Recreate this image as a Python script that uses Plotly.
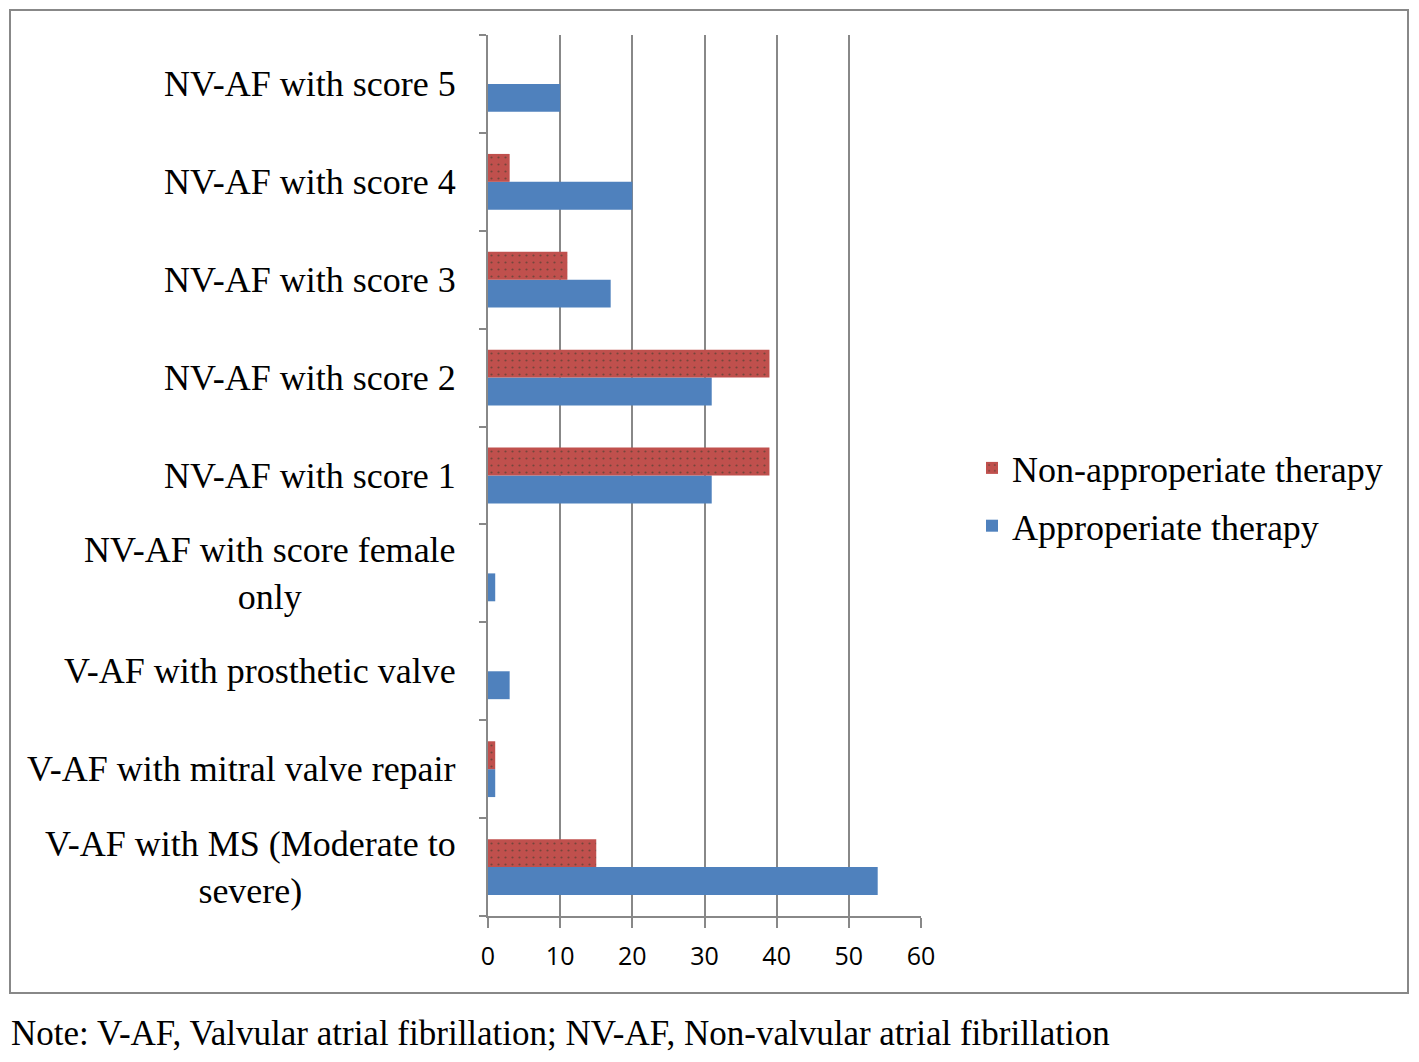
import plotly.graph_objects as go

categories = [
    "V-AF with MS (Moderate to<br>severe)",
    "V-AF with mitral valve repair",
    "V-AF with prosthetic valve",
    "NV-AF with score female<br>only",
    "NV-AF with score 1",
    "NV-AF with score 2",
    "NV-AF with score 3",
    "NV-AF with score 4",
    "NV-AF with score 5",
]
appropriate = [54, 1, 3, 1, 31, 31, 17, 20, 10]
non_appropriate = [15, 1, 0, 0, 39, 39, 11, 3, 0]
x_ticks = [0, 10, 20, 30, 40, 50, 60]

# page body has an 8px margin; work in reference screen pixels
OFF = 8
W, H = 1419 - 2 * OFF, 1062 - 2 * OFF
L, R, T, B = 488, 921, 35, 916  # screen pixels of plot area

def px_x(p):
    return (p - L) / (R - L)

def px_y(p):
    return (B - p) / (B - T)

serif = "Liberation Serif"

fig = go.Figure()
fig.add_trace(go.Bar(
    y=categories, x=appropriate, orientation="h", name="Approperiate therapy",
    legendgroup="a", legendrank=2,
    marker=dict(color="#4F81BD", line=dict(width=0)),
))
fig.add_trace(go.Bar(
    y=categories, x=non_appropriate, orientation="h", name="Non-approperiate therapy",
    legendgroup="n", legendrank=1,
    marker=dict(color="#C0504D", line=dict(width=0),
                pattern=dict(shape=".", fgcolor="#2a3a2a", bgcolor="#C0504D", size=7, solidity=0.08)),
))

annotations = []
for c in categories:
    annotations.append(dict(
        x=px_x(458), xref="paper", y=c, yref="y", text=c, showarrow=False,
        xanchor="right", yanchor="middle", align="center",
        font=dict(family=serif, size=36, color="black"),
    ))
annotations.append(dict(
    x=px_x(9), xref="paper", y=px_y(1033), yref="paper",
    text="Note: V-AF, Valvular atrial fibrillation; NV-AF, Non-valvular atrial fibrillation",
    showarrow=False, xanchor="left", yanchor="middle",
    font=dict(family=serif, size=35, color="black"),
))

fig.update_layout(
    width=W, height=H,
    margin=dict(l=L - OFF, r=W - (R - OFF), t=T - OFF, b=H - (B - OFF), pad=0),
    paper_bgcolor="white", plot_bgcolor="white",
    barmode="group", bargap=0.43, bargroupgap=0,
    showlegend=True,
    legend=dict(
        x=px_x(972), y=px_y(497), xanchor="left", yanchor="middle",
        traceorder="grouped", tracegroupgap=8,
        font=dict(family=serif, size=36, color="black"),
        bgcolor="rgba(0,0,0,0)", itemwidth=30,
    ),
    annotations=annotations,
    shapes=[dict(type="rect", xref="paper", yref="paper",
                 x0=px_x(10), x1=px_x(1408), y0=px_y(993), y1=px_y(10),
                 line=dict(color="#888888", width=2), fillcolor="rgba(0,0,0,0)", layer="below")],
)
fig.update_xaxes(
    range=[0, 60], tickvals=x_ticks, ticktext=[str(v) for v in x_ticks],
    showgrid=True, gridcolor="#888888", gridwidth=2,
    showline=True, linecolor="#888888", linewidth=2,
    ticks="outside", ticklen=10, tickcolor="#888888", tickwidth=2,
    ticklabelstandoff=7,
    tickfont=dict(family="Open Sans", size=25, color="black"),
    zeroline=False, fixedrange=True,
)
fig.update_yaxes(
    type="category", categoryorder="array", categoryarray=categories,
    showticklabels=False, showgrid=False,
    showline=True, linecolor="#888888", linewidth=2,
    ticks="outside", ticklen=7, tickcolor="#888888", tickwidth=2, tickson="boundaries",
    range=[-0.5, 8.5], fixedrange=True,
)

fig.write_html("out.html")
